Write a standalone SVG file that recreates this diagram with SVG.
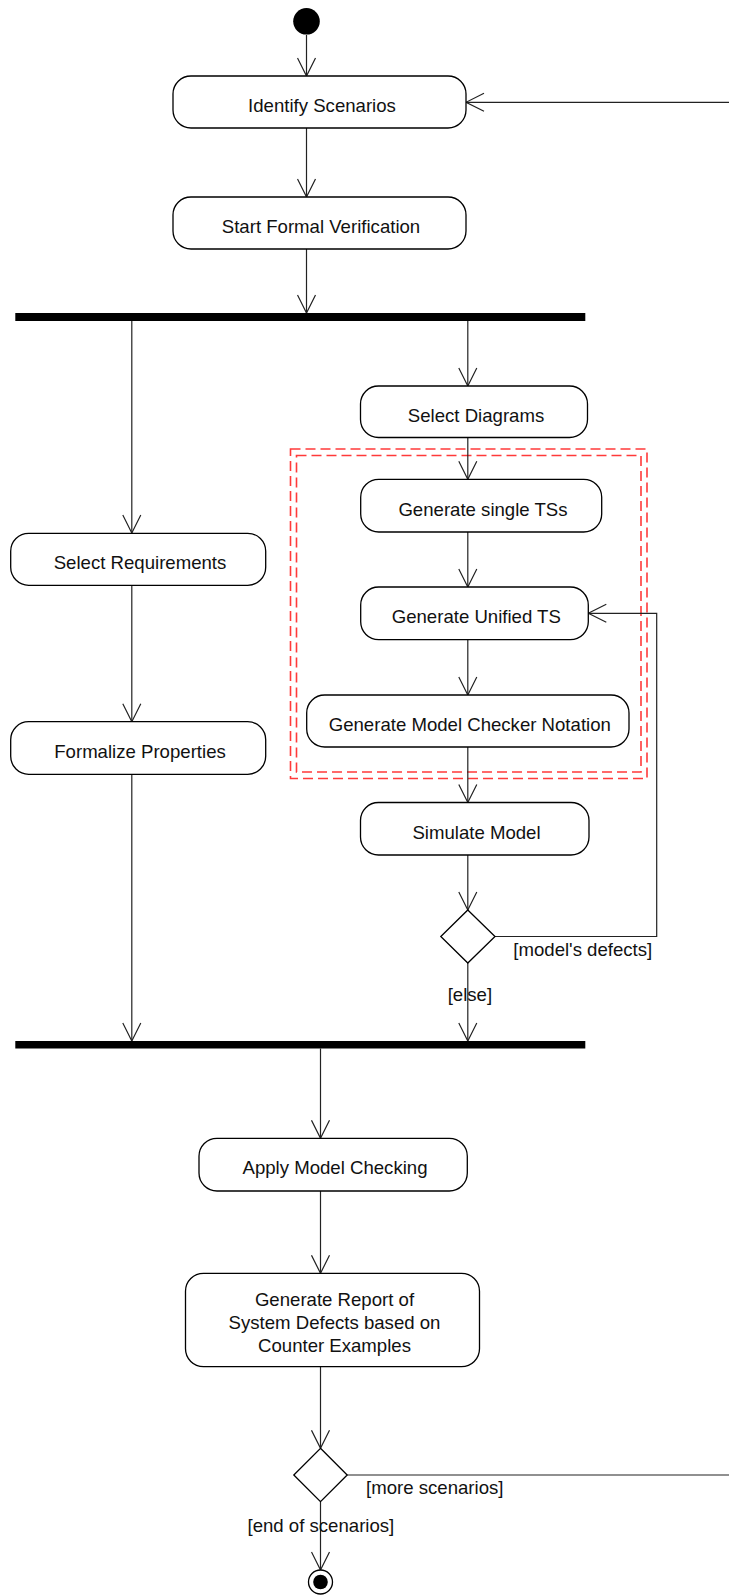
<svg xmlns="http://www.w3.org/2000/svg" width="729" height="1596" viewBox="0 0 729 1596">
  <style>
    .act { fill: #ffffff; stroke: #000000; stroke-width: 1.3; }
    .lbl { font-family: "Liberation Sans", Arial, sans-serif; font-size: 18.6px; fill: #111111; text-anchor: middle; }
    .guard { font-family: "Liberation Sans", Arial, sans-serif; font-size: 18.6px; fill: #111111; }
    .flow { fill: none; stroke: #222222; stroke-width: 1.2; marker-end: url(#open); }
    .plain { fill: none; stroke: #222222; stroke-width: 1.2; }
    .bar { fill: #000000; }
    .region { fill: none; stroke: #ff3a3a; stroke-width: 1.6; stroke-dasharray: 10 5; }
  </style>
  <defs>
    <marker id="open" viewBox="0 0 20 20" refX="19" refY="10" markerWidth="20" markerHeight="20" markerUnits="userSpaceOnUse" orient="auto">
      <path d="M1,1 L19,10 L1,19" fill="none" stroke="#222222" stroke-width="1.2"/>
    </marker>
  </defs>

  <rect width="729" height="1596" fill="#ffffff"/>

  <!-- highlighted region around the transition-system steps -->
  <g id="region">
    <rect class="region" x="290.5" y="449" width="356.5" height="329.5"/>
    <rect class="region" x="296.5" y="455.5" width="344.5" height="316.5"/>
  </g>

  <g id="connectors">
    <path class="flow" d="M306.5,35 L306.5,76"/>
    <path class="flow" d="M306.5,128 L306.5,197"/>
    <path class="flow" d="M306.5,249 L306.5,313"/>
    <path class="flow" d="M729,102.3 L466,102.3"/>
    <path class="flow" d="M467.8,321 L467.8,386"/>
    <path class="flow" d="M131.8,321 L131.8,533"/>
    <path class="flow" d="M467.8,437.5 L467.8,479.3"/>
    <path class="flow" d="M467.8,532 L467.8,587"/>
    <path class="flow" d="M467.8,639.7 L467.8,695"/>
    <path class="flow" d="M467.8,747 L467.8,802.5"/>
    <path class="flow" d="M467.8,855 L467.8,910"/>
    <path class="flow" d="M495,936.5 L656.7,936.5 L656.7,613.3 L588.3,613.3"/>
    <path class="flow" d="M467.8,963 L467.8,1041"/>
    <path class="flow" d="M131.8,585.3 L131.8,721.7"/>
    <path class="flow" d="M131.8,774.3 L131.8,1041"/>
    <path class="flow" d="M320.5,1048.5 L320.5,1138.3"/>
    <path class="flow" d="M320.5,1191 L320.5,1273.3"/>
    <path class="flow" d="M320.5,1366.7 L320.5,1448.3"/>
    <path class="flow" d="M320.5,1501.7 L320.5,1570"/>
    <path class="plain" d="M347.2,1475 L729,1475"/>
    <text class="guard" x="513.3" y="955.7">[model's defects]</text>
    <text class="guard" x="447.7" y="1000.7">[else]</text>
    <text class="guard" x="366" y="1493.5">[more scenarios]</text>
    <text class="guard" x="247.5" y="1531.7">[end of scenarios]</text>
  </g>

  <g id="start">
    <circle cx="306.5" cy="21.3" r="13.3" fill="#000000"/>
  </g>

  <g id="identify-scenarios">
    <rect class="act" x="173" y="76" width="293" height="52" rx="18"/>
    <text class="lbl" x="322" y="111.5">Identify Scenarios</text>
  </g>

  <g id="start-formal-verification">
    <rect class="act" x="173" y="197" width="293" height="52" rx="18"/>
    <text class="lbl" x="321" y="232.5">Start Formal Verification</text>
  </g>

  <g id="fork">
    <rect class="bar" x="15.3" y="313" width="570" height="8"/>
  </g>

  <g id="select-diagrams">
    <rect class="act" x="360.5" y="386" width="227" height="51.5" rx="18"/>
    <text class="lbl" x="476" y="421.5">Select Diagrams</text>
  </g>

  <g id="generate-single-tss">
    <rect class="act" x="360.7" y="479.3" width="241" height="52.7" rx="18"/>
    <text class="lbl" x="483" y="515.6">Generate single TSs</text>
  </g>

  <g id="generate-unified-ts">
    <rect class="act" x="360.7" y="587" width="227.6" height="52.7" rx="18"/>
    <text class="lbl" x="476.3" y="623.3">Generate Unified TS</text>
  </g>

  <g id="generate-model-checker-notation">
    <rect class="act" x="306.7" y="695" width="322.3" height="52" rx="18"/>
    <text class="lbl" x="469.8" y="731">Generate Model Checker Notation</text>
  </g>

  <g id="simulate-model">
    <rect class="act" x="360.5" y="802.5" width="228.5" height="52.5" rx="18"/>
    <text class="lbl" x="476.5" y="838.5">Simulate Model</text>
  </g>

  <g id="model-decision">
    <polygon class="act" points="467.8,910 495,936.5 467.8,963 440.8,936.5"/>
  </g>

  <g id="select-requirements">
    <rect class="act" x="10.7" y="533.3" width="255" height="52" rx="18"/>
    <text class="lbl" x="140" y="569">Select Requirements</text>
  </g>

  <g id="formalize-properties">
    <rect class="act" x="10.7" y="721.7" width="255" height="52.6" rx="18"/>
    <text class="lbl" x="140" y="757.6">Formalize Properties</text>
  </g>

  <g id="join">
    <rect class="bar" x="15.3" y="1041" width="570" height="7.5"/>
  </g>

  <g id="apply-model-checking">
    <rect class="act" x="199" y="1138.3" width="268.3" height="52.7" rx="18"/>
    <text class="lbl" x="335" y="1174.3">Apply Model Checking</text>
  </g>

  <g id="generate-report">
    <rect class="act" x="185.5" y="1273.3" width="294" height="93.4" rx="18"/>
    <text class="lbl" x="334.5" y="1305.7">Generate Report of</text>
    <text class="lbl" x="334.5" y="1328.5">System Defects based on</text>
    <text class="lbl" x="334.5" y="1351.7">Counter Examples</text>
  </g>

  <g id="scenario-decision">
    <polygon class="act" points="320.5,1448.3 347.2,1475 320.5,1501.7 293.8,1475"/>
  </g>

  <g id="end">
    <circle cx="320.5" cy="1582" r="12" fill="#ffffff" stroke="#000000" stroke-width="1.3"/>
    <circle cx="320.5" cy="1582" r="7.3" fill="#000000"/>
  </g>
</svg>
